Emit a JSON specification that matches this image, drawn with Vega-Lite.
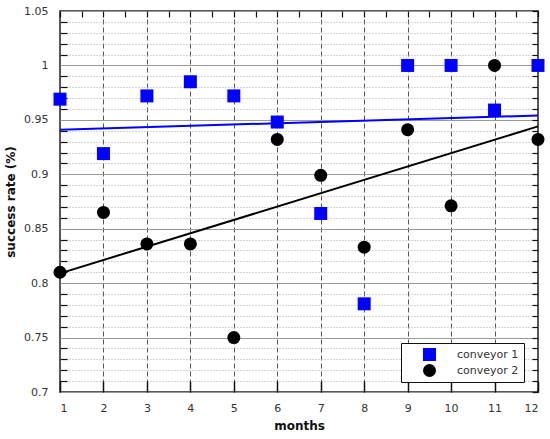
{
  "$schema": "https://vega.github.io/schema/vega-lite/v6.json",
  "width": 478,
  "height": 381,
  "autosize": "none",
  "padding": {"left": 60, "top": 11, "right": 12, "bottom": 47},
  "background": "white",
  "config": {
    "view": {"stroke": "#222", "strokeWidth": 1.5},
    "font": "DejaVu Sans",
    "axis": {
      "labelFont": "DejaVu Sans",
      "labelFontSize": 11,
      "labelColor": "#333",
      "titleFont": "DejaVu Sans",
      "titleFontSize": 12,
      "titleFontWeight": "bold",
      "titleColor": "#111",
      "domain": false
    },
    "legend": {
      "orient": "none",
      "legendX": 341,
      "legendY": 332,
      "strokeColor": "#111",
      "fillColor": "white",
      "padding": 5,
      "symbolOffset": 17,
      "symbolSize": 169,
      "symbolStrokeWidth": 0,
      "labelOffset": 21,
      "labelFont": "DejaVu Sans",
      "labelFontSize": 11,
      "labelColor": "#333",
      "rowPadding": 3,
      "cornerRadius": 0
    }
  },
  "datasets": {
    "points": [
      {"month": 1, "rate": 0.969, "conveyor": "conveyor 1"},
      {"month": 2, "rate": 0.919, "conveyor": "conveyor 1"},
      {"month": 3, "rate": 0.972, "conveyor": "conveyor 1"},
      {"month": 4, "rate": 0.985, "conveyor": "conveyor 1"},
      {"month": 5, "rate": 0.972, "conveyor": "conveyor 1"},
      {"month": 6, "rate": 0.948, "conveyor": "conveyor 1"},
      {"month": 7, "rate": 0.864, "conveyor": "conveyor 1"},
      {"month": 8, "rate": 0.781, "conveyor": "conveyor 1"},
      {"month": 9, "rate": 1.0, "conveyor": "conveyor 1"},
      {"month": 10, "rate": 1.0, "conveyor": "conveyor 1"},
      {"month": 11, "rate": 0.959, "conveyor": "conveyor 1"},
      {"month": 12, "rate": 1.0, "conveyor": "conveyor 1"},
      {"month": 1, "rate": 0.81, "conveyor": "conveyor 2"},
      {"month": 2, "rate": 0.865, "conveyor": "conveyor 2"},
      {"month": 3, "rate": 0.836, "conveyor": "conveyor 2"},
      {"month": 4, "rate": 0.836, "conveyor": "conveyor 2"},
      {"month": 5, "rate": 0.75, "conveyor": "conveyor 2"},
      {"month": 6, "rate": 0.932, "conveyor": "conveyor 2"},
      {"month": 7, "rate": 0.899, "conveyor": "conveyor 2"},
      {"month": 8, "rate": 0.833, "conveyor": "conveyor 2"},
      {"month": 9, "rate": 0.941, "conveyor": "conveyor 2"},
      {"month": 10, "rate": 0.871, "conveyor": "conveyor 2"},
      {"month": 11, "rate": 1.0, "conveyor": "conveyor 2"},
      {"month": 12, "rate": 0.932, "conveyor": "conveyor 2"}
    ],
    "trend": [
      {"month": 1, "rate": 0.941, "conveyor": "conveyor 1"},
      {"month": 12, "rate": 0.954, "conveyor": "conveyor 1"},
      {"month": 1, "rate": 0.809, "conveyor": "conveyor 2"},
      {"month": 12, "rate": 0.944, "conveyor": "conveyor 2"}
    ]
  },
  "layer": [
    {
      "data": {"name": "trend"},
      "transform": [{"filter": "datum.conveyor == 'conveyor 2'"}],
      "mark": {"type": "line", "color": "#000000", "strokeWidth": 2},
      "encoding": {
        "x": {
          "field": "month", "type": "quantitative",
          "scale": {"domain": [1, 12], "nice": false, "zero": false},
          "axis": {
            "orient": "bottom", "labels": false, "title": null, "grid": false,
            "values": [1, 2, 3, 4, 5, 6, 7, 8, 9, 10, 11, 12],
            "ticks": true, "tickSize": -11, "tickColor": "#111", "tickWidth": 1.5
          }
        },
        "y": {
          "field": "rate", "type": "quantitative",
          "scale": {"domain": [0.7, 1.05], "nice": false, "zero": false},
          "axis": {
            "orient": "left", "labels": false, "title": null,
            "values": [0.71, 0.72, 0.73, 0.74, 0.76, 0.77, 0.78, 0.79, 0.81, 0.82, 0.83, 0.84, 0.86, 0.87, 0.88, 0.89, 0.91, 0.92, 0.93, 0.94, 0.96, 0.97, 0.98, 0.99, 1.01, 1.02, 1.03, 1.04],
            "grid": true, "gridColor": "#aaa", "gridDash": [1, 2], "gridWidth": 1,
            "ticks": true, "tickSize": -7, "tickColor": "#111", "tickWidth": 1.2
          }
        }
      }
    },
    {
      "data": {"name": "trend"},
      "transform": [{"filter": "datum.conveyor == 'conveyor 1'"}],
      "mark": {"type": "line", "color": "#0000ff", "strokeWidth": 2},
      "encoding": {
        "x": {
          "field": "month", "type": "quantitative",
          "scale": {"domain": [1, 12], "nice": false, "zero": false},
          "axis": {
            "orient": "bottom", "title": "months",
            "values": [1, 2, 3, 4, 5, 6, 7, 8, 9, 10, 11, 12],
            "labelPadding": 10, "titlePadding": 7,
            "grid": true, "gridColor": "#555", "gridDash": [5, 3], "gridWidth": 1,
            "ticks": false
          }
        },
        "y": {
          "field": "rate", "type": "quantitative",
          "scale": {"domain": [0.7, 1.05], "nice": false, "zero": false},
          "axis": {
            "orient": "left", "title": "success rate (%)",
            "values": [0.7, 0.75, 0.8, 0.85, 0.9, 0.95, 1, 1.05],
            "format": "~g",
            "labelPadding": 12, "titlePadding": 6,
            "grid": true, "gridColor": "#999", "gridWidth": 1.2,
            "ticks": false
          }
        }
      }
    },
    {
      "data": {"name": "points"},
      "mark": {"type": "point", "filled": true, "opacity": 1, "size": 169},
      "encoding": {
        "x": {
          "field": "month", "type": "quantitative",
          "scale": {"domain": [1, 12], "nice": false, "zero": false},
          "axis": {
            "orient": "top", "labels": false, "title": null, "grid": false,
            "values": [1, 1.5, 2, 2.5, 3, 3.5, 4, 4.5, 5, 5.5, 6, 6.5, 7, 7.5, 8, 8.5, 9, 9.5, 10, 10.5, 11, 11.5, 12],
            "ticks": true, "tickSize": -6, "tickColor": "#111", "tickWidth": 1.2
          }
        },
        "y": {
          "field": "rate", "type": "quantitative",
          "scale": {"domain": [0.7, 1.05], "nice": false, "zero": false},
          "axis": {
            "orient": "right", "labels": false, "title": null, "grid": false,
            "values": [0.7, 0.71, 0.72, 0.73, 0.74, 0.75, 0.76, 0.77, 0.78, 0.79, 0.8, 0.81, 0.82, 0.83, 0.84, 0.85, 0.86, 0.87, 0.88, 0.89, 0.9, 0.91, 0.92, 0.93, 0.94, 0.95, 0.96, 0.97, 0.98, 0.99, 1, 1.01, 1.02, 1.03, 1.04, 1.05],
            "ticks": true, "tickSize": -6, "tickColor": "#111", "tickWidth": 1.2
          }
        },
        "color": {
          "field": "conveyor", "type": "nominal",
          "scale": {"domain": ["conveyor 1", "conveyor 2"], "range": ["#0000ff", "#000000"]},
          "legend": {"title": null}
        },
        "shape": {
          "field": "conveyor", "type": "nominal",
          "scale": {"domain": ["conveyor 1", "conveyor 2"], "range": ["square", "circle"]},
          "legend": {"title": null}
        }
      }
    }
  ],
  "resolve": {"axis": {"x": "independent", "y": "independent"}}
}
